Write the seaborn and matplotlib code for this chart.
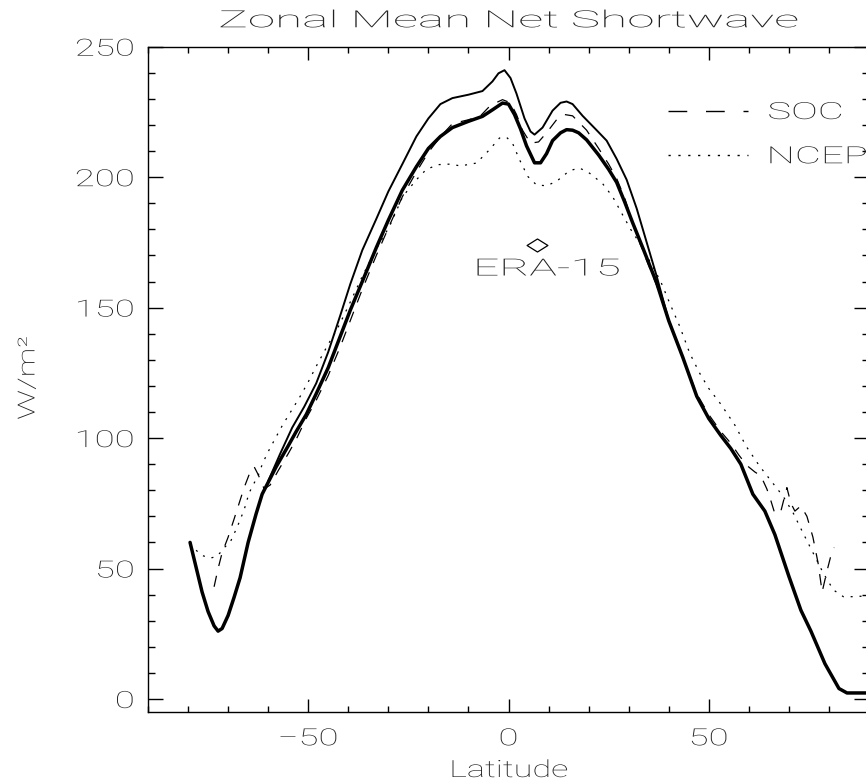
import numpy as np
import matplotlib
matplotlib.use("Agg")
import matplotlib.pyplot as plt
import seaborn as sns
from matplotlib.ticker import MultipleLocator
from matplotlib.lines import Line2D
from matplotlib.path import Path
from matplotlib.patheffects import AbstractPathEffect
from matplotlib.transforms import Affine2D

# ---- zonal mean net shortwave (W/m^2) by latitude ----
lat_model = [-79.5, -78, -76.5, -75, -73.5, -72.5, -71.5, -70, -68.5, -67, -65, -63,
             -61.5, -60, -58, -55, -53, -50.5, -48, -45, -42, -39.5, -36.5, -33, -30,
             -26.5, -23, -20, -17, -14, -10, -6.5, -4, -1.5, 0, 1.5, 3, 4.5, 6.5, 8,
             9.5, 11, 13, 14.5, 16, 17.5, 19.5, 22.5, 25, 27, 29, 31, 33.5, 37, 40,
             43.5, 47, 50, 53, 55.5, 58, 61, 64, 66.5, 70, 73, 75.5, 79, 82.5, 84.5,
             89.5]
model_sw = [60, 50.5, 41, 33.5, 28, 26, 27, 32, 39, 46.5, 60, 71,
            78.5, 83, 89, 97, 102.5, 109, 117, 127, 139, 149, 160, 173, 183.5,
            195, 204, 211, 215.6, 219, 221.4, 223.3, 225.8, 228.4, 228, 224, 218.5, 212, 205.5, 205.5,
            209, 214, 217, 218.2, 218, 217, 214.3, 208.5, 203, 198, 190.5, 182.5, 173, 159.4, 145,
            131, 116, 107.5, 101, 96, 90, 78.5, 72, 63, 47, 34, 26, 13.5, 4, 2.3,
            2.3]

lat_erbe = [-60, -57, -54, -51, -48, -45, -42, -39.5, -36.5, -33, -30, -26.5, -23,
            -20, -17, -14, -10, -6.5, -4, -2.5, -1, 0.5, 2, 4, 5.5, 6.5, 8.5, 11, 13,
            14.5, 16, 18.5, 22, 24.5, 27, 29.5, 32, 34.5, 37, 40, 43.5]
erbe_sw = [83.5, 94, 104, 112, 121, 133, 147, 159, 172, 184, 194.5, 205, 215.6,
           222.5, 228, 230.3, 231.6, 233, 236.7, 239.8, 241, 238, 232, 222.5, 217.5, 216.3, 219, 225.5, 228.5,
           229, 228, 223.5, 218, 214, 207, 199, 188, 175, 162, 145, 131]

lat_soc = [-73.5, -72.5, -71.5, -70, -68.5, -66, -64.5, -63.5, -62.5, -61, -59.5, -57.5,
           -55, -53, -50.5, -48, -45, -42, -39.5, -36.5, -33, -30, -26.5, -23, -20, -17,
           -14, -10, -7, -4.5, -1.5, 0.5, 2, 3.5, 5.5, 7.5, 9.5, 12, 14, 16, 19.5, 22.5,
           25, 27, 29, 31.5, 34, 37, 40, 43.5, 47, 50, 53, 55.5, 57.5, 59.5, 61.5, 63,
           64.5, 65.5, 66.5, 68, 69.5, 70.5, 71.5, 73, 74.5, 76, 77.3, 78.3, 79.5, 80.5,
           81.3]
soc_sw = [43, 50, 56, 62, 69, 81, 87, 89, 86, 80.5, 82, 87.5,
          94, 99.5, 107.5, 114.5, 124, 135, 145, 157, 170, 180.5, 192.5, 202, 209.5, 215.5,
          220.5, 222, 223.5, 227.5, 229.7, 228.5, 224, 218, 213, 213.5, 217, 222, 224, 223.5, 218, 211,
          205, 199.5, 192, 180, 170, 158.5, 145, 131, 117, 109, 102.5, 98, 93.5, 89.5, 87, 85.5,
          80.5, 76, 71, 72, 81, 75, 72, 74, 70, 62, 52, 41, 49, 55,
          58]

lat_ncep = [-78, -76.5, -74.5, -73, -72, -71, -69.5, -67.7, -66, -64.75, -62.25, -61.4,
            -59.75, -58, -56.4, -54, -52, -50, -48, -45, -43, -40, -36.5, -33, -29.75,
            -26.4, -23, -20.5, -17.5, -14.5, -12, -8, -4.75, -2.25, -0.5, 1, 2.75, 4.8, 7,
            9.5, 12, 15.25, 17.75, 20.25, 23.5, 26, 28.5, 30.5, 32.75, 36, 38, 40.25, 42.75,
            45.25, 47.75, 50, 53, 56.5, 59.4, 62.75, 66, 68.6, 71.1, 73.6, 76.1, 78.6, 81.1,
            83.6, 86.1, 89.5]
ncep_sw = [57, 55, 54, 54.5, 56, 58, 60, 66, 72.5, 79, 86.5, 90.3,
           95.5, 100.5, 105, 111, 116, 121.5, 127.5, 136, 141, 150.5, 162, 172.5, 181,
           192.6, 199, 203, 204.8, 205, 204.3, 205.4, 210.5, 215, 215.3, 213, 206.7, 200.3, 197,
           196.7, 198.4, 202.5, 203.5, 201.5, 197.5, 192.5, 185.5, 180, 174.7, 165.8, 160, 151.7, 142.8,
           132.5, 124.8, 119, 113, 105, 96.7, 89.1, 82.7, 77.6, 71.2, 63.4, 55.8, 48.2, 41.8,
           39.2, 39.2, 39.5]

era_lat = [7]
era_sw = [174]

legend_names = ["SOC", "NCEP"]
x_ticks = [-50, 0, 50]
x_ticklabels = ["\u221250", "0", "50"]
y_ticks = [0, 50, 100, 150, 200, 250]


class WideGlyphs(AbstractPathEffect):
    """Widen glyph outlines horizontally around a fixed anchor."""

    def __init__(self, sx=1.5, anchor="center"):
        super().__init__()
        self.sx = sx
        self.anchor = anchor

    def draw_path(self, renderer, gc, tpath, affine, rgbFace=None):
        ext = tpath.get_extents()
        if self.anchor == "left":
            cx = ext.x0
        elif self.anchor == "right":
            cx = ext.x1
        else:
            cx = 0.5 * (ext.x0 + ext.x1)
        widen = Affine2D().translate(-cx, 0).scale(self.sx, 1.0).translate(cx, 0)
        renderer.draw_path(gc, tpath, widen + affine, rgbFace)


sns.set_style("ticks")
FONT = ["Roboto", "DejaVu Sans"]
plt.rcParams["font.family"] = FONT
plt.rcParams["axes.linewidth"] = 1.0
TXT = "#222222"
FS = 17
WEIGHT = "light"
font_kw = dict(fontsize=FS, fontweight=WEIGHT, color=TXT, family=FONT)

fig = plt.figure(figsize=(8.66, 7.82), dpi=100)
ax = fig.add_axes([148 / 866, 1 - 712 / 782, 721 / 866, 665.3 / 782])

sns.lineplot(x=lat_erbe, y=erbe_sw, ax=ax, color="black", lw=1.4, sort=False,
             estimator=None, legend=False)
sns.lineplot(x=lat_soc, y=soc_sw, ax=ax, color="black", lw=0.9, sort=False,
             estimator=None, legend=False, linestyle=(0, (9, 8)))
sns.lineplot(x=lat_ncep, y=ncep_sw, ax=ax, color="black", lw=0.9, sort=False,
             estimator=None, legend=False, linestyle=(0, (1.6, 5.5)))
sns.lineplot(x=lat_model, y=model_sw, ax=ax, color="black", lw=2.5, sort=False,
             estimator=None, legend=False)

# ERA-15 global value: a wide open diamond with its label beneath
diamond = Path([(0, 1), (1.6, 0), (0, -1), (-1.6, 0), (0, 1)],
               [Path.MOVETO, Path.LINETO, Path.LINETO, Path.LINETO, Path.CLOSEPOLY])
ax.plot(era_lat, era_sw, ls="none", marker=diamond, ms=15, mfc="none", mec="black", mew=0.9)
t_era = ax.text(9.75, 164.8, "ERA-15", ha="center", va="center", **font_kw)
t_era.set_path_effects([WideGlyphs(1.95, "center")])

ax.set_xlim(-90, 90)
ax.set_ylim(-5, 250)
ax.set_xticks(x_ticks, labels=x_ticklabels)
ax.set_yticks(y_ticks)
ax.xaxis.set_minor_locator(MultipleLocator(10))
ax.yaxis.set_minor_locator(MultipleLocator(10))
ax.tick_params(axis="both", which="both", direction="in", top=True, right=True,
               color="black", width=1.0, labelsize=FS, labelcolor=TXT)
ax.tick_params(axis="x", which="major", length=9.5, pad=11)
ax.tick_params(axis="x", which="minor", length=4.5)
ax.tick_params(axis="y", which="major", length=10.8, pad=10)
ax.tick_params(axis="y", which="minor", length=5)
for sp in ax.spines.values():
    sp.set_color("black")
    sp.set_linewidth(1.0)

title = ax.set_title("Zonal Mean Net Shortwave", pad=14, **font_kw)
title.set_path_effects([WideGlyphs(2.1, "center")])

xl = ax.set_xlabel("Latitude", **font_kw)
ax.xaxis.set_label_coords(0.5007, (712 - 777) / 665.3)
xl.set_va("baseline")
xl.set_path_effects([WideGlyphs(1.45, "center")])

yl = ax.set_ylabel("W/m\u00b2", **font_kw)
ax.yaxis.set_label_coords((28 - 148) / 721, (712 - 378) / 665.3)
yl.set_va("center")
yl.set_ha("center")
yl.set_path_effects([WideGlyphs(1.4, "center")])

handles = [
    Line2D([], [], color="black", lw=1.0, linestyle=(0, (13.5, 13.5))),
    Line2D([], [], color="black", lw=1.0, linestyle=(0, (1.6, 5.5))),
]
leg = ax.legend(handles, legend_names, loc="upper left",
                bbox_to_anchor=(668 / 866, 1 - 101 / 782), bbox_transform=fig.transFigure,
                frameon=False, borderpad=0, borderaxespad=0, handlelength=3.39,
                handletextpad=0.85, labelspacing=0.9,
                prop=dict(size=FS, weight=WEIGHT, family=FONT))
for t in leg.get_texts():
    t.set_color(TXT)
    t.set_path_effects([WideGlyphs(1.7, "left")])

fig.canvas.draw()
for lab in ax.get_xticklabels():
    lab.set_fontweight(WEIGHT)
    lab.set_path_effects([WideGlyphs(1.55, "center")])
for lab in ax.get_yticklabels():
    lab.set_fontweight(WEIGHT)
    lab.set_path_effects([WideGlyphs(1.55, "right")])

fig.savefig("out.png", dpi=100)
